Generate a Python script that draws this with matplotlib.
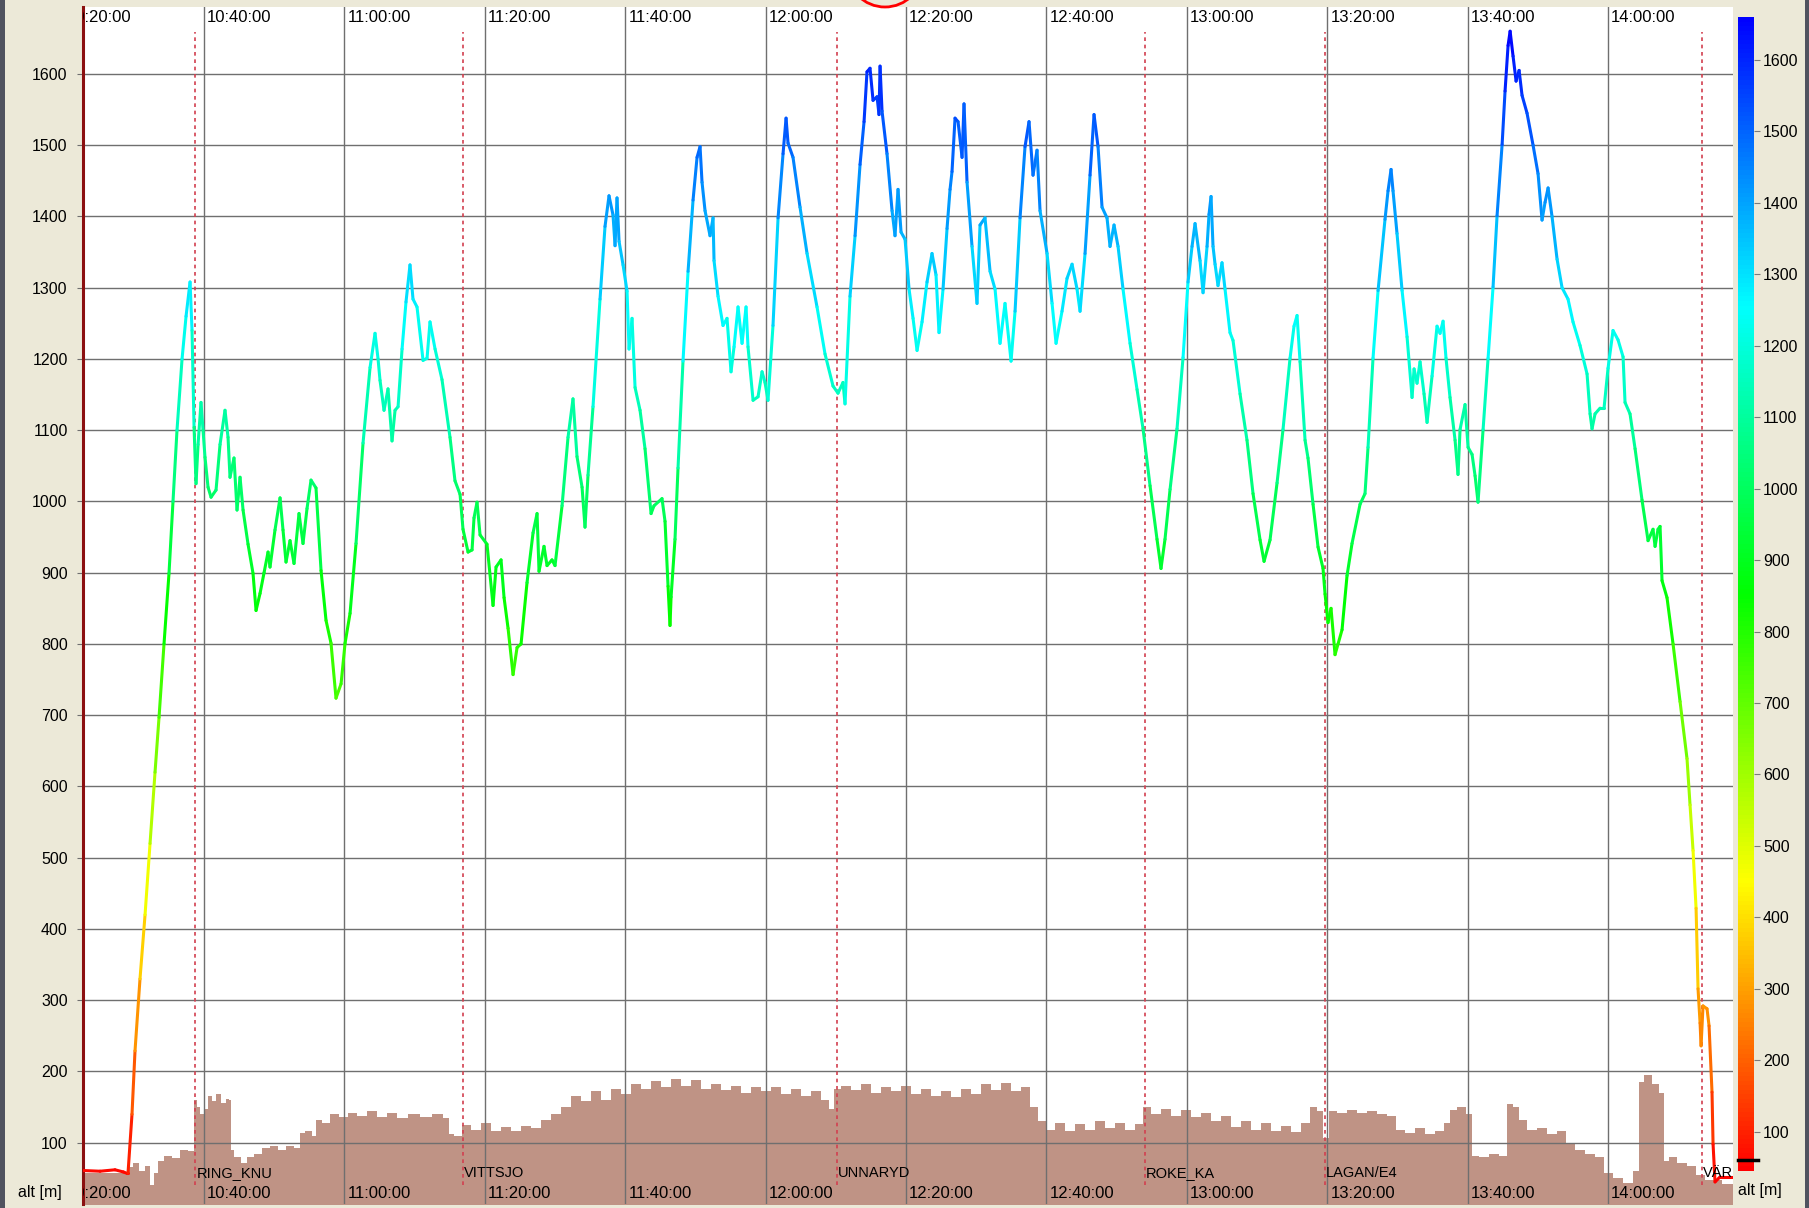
import numpy as np
import matplotlib
matplotlib.use("Agg")
import matplotlib.pyplot as plt
import matplotlib.transforms as mtransforms
from matplotlib.collections import LineCollection
from matplotlib.colors import ListedColormap, Normalize, hsv_to_rgb
from matplotlib.cm import ScalarMappable
from matplotlib.patches import Circle, Rectangle

plt.rcParams['font.family'] = ['Liberation Sans', 'DejaVu Sans']

# flight track: minutes after 10:00 and altitude [m]
flight_min = [
    22.76, 25.19, 27.32, 28.50, 29.03, 29.17, 29.74, 30.17, 30.88, 31.60, 32.31, 33.02,
    33.59, 34.30, 35.01, 35.58, 36.15, 36.87, 37.44, 38.01, 38.29, 38.58, 38.86, 39.15,
    39.57, 39.86, 40.14, 40.57, 41.00, 41.71, 42.28, 42.99, 43.42, 43.70, 44.27, 44.70,
    45.13, 45.56, 46.27, 46.98, 47.41, 47.98, 48.55, 49.12, 49.40, 50.11, 50.83, 51.25,
    51.68, 52.25, 52.82, 53.53, 54.10, 54.67, 55.24, 55.95, 56.67, 57.38, 58.09, 58.80,
    59.52, 60.09, 60.80, 61.65, 62.65, 63.65, 64.36, 64.79, 65.07,
    65.64, 66.21, 66.78, 67.21, 67.64, 68.21, 68.77, 69.34, 69.77, 70.34, 71.20, 71.77,
    72.19, 72.91, 73.90, 75.04, 75.75, 76.47, 76.89, 77.61, 78.18, 78.46, 78.89, 79.32,
    80.31, 81.17, 81.60, 82.31, 82.74, 83.31, 84.02, 84.59, 85.16, 86.01, 86.87, 87.44,
    87.72, 88.43, 88.86, 89.57, 90.00, 91.00, 91.85, 92.56, 93.13, 93.85, 94.27, 94.70,
    95.41, 96.41, 97.12, 97.69, 98.26, 98.55, 98.83, 99.12, 99.69, 100.26, 100.54, 100.97,
    101.40, 102.11, 102.82, 103.68, 104.10, 105.24, 105.67, 106.10, 106.38, 106.53, 107.09,
    107.52, 108.23, 108.95, 109.66, 110.23, 110.66, 110.94, 111.37, 112.08, 112.51, 112.65,
    113.22, 113.93, 114.50, 115.07, 115.50, 116.07, 116.64, 117.21, 117.49, 118.21, 118.92,
    119.49, 119.91, 120.34, 121.05, 121.77, 122.48, 122.91, 123.19, 123.90, 124.90, 125.90,
    127.32, 128.46, 129.60, 130.31, 131.02, 131.31, 132.02, 132.74, 133.45, 134.02, 134.44,
    134.87, 135.30, 135.87, 136.15, 136.30, 136.58, 137.29, 138.01, 138.43, 138.86, 139.29,
    139.86, 140.43, 141.00, 141.57, 142.28, 142.99, 143.70, 144.27, 144.70, 145.27, 145.84,
    146.27, 146.55, 146.98, 147.41, 147.98, 148.26, 148.69, 149.40, 150.11, 150.54, 151.25,
    151.97, 152.68, 153.39, 154.10, 154.96, 155.53, 156.24, 156.95, 157.52, 158.09, 158.66,
    159.09, 160.09, 160.80, 161.37, 162.22, 162.93, 163.65, 164.36, 164.79, 165.50, 166.21,
    166.78, 167.35, 167.92, 168.63, 169.06, 169.63, 170.20, 170.91, 171.91, 172.91, 173.76,
    174.76, 175.75, 176.32, 176.89, 177.61, 178.60, 179.46, 180.17, 180.74, 181.17, 181.88,
    182.31, 182.88, 183.16, 183.45, 183.73, 184.02, 184.44, 185.01, 185.44, 186.15, 186.58,
    187.58, 188.57, 189.43, 190.43, 191.00, 191.85, 192.85, 193.70, 194.70, 195.27, 195.70,
    196.13, 196.84, 197.26, 197.98, 198.69, 199.40, 199.69, 200.11, 200.54, 201.11, 201.54,
    202.11, 202.82, 203.53, 204.67, 205.38, 205.81, 206.52, 207.24, 208.23, 208.66, 209.09,
    209.37, 209.94, 210.66, 211.37, 212.08, 212.37, 212.79, 213.22, 213.79, 214.22, 214.93,
    215.64, 216.07, 216.50, 216.92, 217.49, 218.21, 218.63, 218.92, 219.63, 220.06, 220.63,
    221.06, 221.48, 222.20, 222.91, 223.62, 224.19, 224.91, 225.33, 225.76, 226.05, 226.47,
    226.90, 227.33, 227.75, 228.46, 229.32, 230.03, 230.60, 231.03, 231.46, 232.02, 232.74,
    233.45, 234.30, 235.01, 236.01, 237.01, 237.44, 237.72, 238.15, 238.86, 239.43, 240.00,
    240.71, 241.42, 242.14, 242.42, 243.13, 243.85, 244.84, 245.70, 246.41, 246.70, 247.12,
    247.41, 247.69, 248.40, 249.26, 250.26, 251.25, 251.68, 252.11, 252.54, 252.82, 253.11,
    253.25, 253.53, 254.10, 254.39, 254.81, 254.96, 255.24, 255.95, 257.80,
]
flight_alt = [
    61, 60, 62, 59, 57, 57, 140, 229, 330, 420, 520, 620,
    697, 800, 899, 1000, 1100, 1200, 1260, 1308, 1240, 1104, 1025, 1080,
    1139, 1100, 1062, 1020, 1006, 1016, 1080, 1128, 1090, 1034, 1061, 988,
    1034, 988, 940, 899, 847, 871, 900, 929, 908, 960, 1005, 960,
    915, 945, 913, 983, 941, 990, 1030, 1019, 903, 833, 801, 724,
    744, 801, 843, 941, 1082, 1188, 1236, 1200, 1170,
    1128, 1158, 1085, 1128, 1133, 1214, 1280, 1332, 1284, 1273, 1198, 1201,
    1252, 1214, 1171, 1090, 1029, 1010, 961, 929, 932, 977, 999, 953,
    940, 854, 908, 918, 865, 822, 757, 795, 800, 886, 956, 983,
    902, 937, 910, 918, 910, 994, 1090, 1144, 1063, 1020, 964, 1037,
    1133, 1284, 1386, 1429, 1402, 1359, 1426, 1365, 1332, 1295, 1214, 1257,
    1160, 1128, 1074, 983, 994, 1004, 972, 881, 826, 866, 947,
    1047, 1197, 1323, 1423, 1483, 1498, 1448, 1408, 1373, 1398, 1338,
    1288, 1247, 1257, 1182, 1217, 1273, 1222, 1273, 1217, 1142, 1147,
    1182, 1167, 1142, 1247, 1398, 1488, 1538, 1503, 1483, 1413, 1348,
    1273, 1207, 1162, 1152, 1167, 1137, 1288, 1373, 1473, 1533, 1603,
    1608, 1563, 1568, 1543, 1611, 1548, 1488, 1408, 1373, 1438, 1378,
    1368, 1298, 1257, 1212, 1252, 1308, 1348, 1318, 1237, 1298, 1383,
    1438, 1463, 1538, 1533, 1483, 1558, 1448, 1358, 1278, 1388, 1398,
    1323, 1298, 1222, 1278, 1197, 1267, 1398, 1498, 1533, 1458, 1493,
    1408, 1348, 1278, 1222, 1267, 1313, 1333, 1298, 1267, 1348, 1458,
    1543, 1498, 1413, 1398, 1358, 1388, 1358, 1298, 1222, 1157, 1102,
    1022, 947, 906, 947, 1017, 1102, 1202, 1308, 1358, 1390, 1338,
    1293, 1358, 1403, 1428, 1358, 1333, 1303, 1335, 1298, 1237, 1226,
    1151, 1086, 1011, 946, 916, 946, 1026, 1101, 1201, 1246, 1261,
    1196, 1086, 1061, 996, 936, 906, 870, 830, 850, 785, 800,
    820, 896, 941, 996, 1011, 1076, 1201, 1296, 1396, 1436, 1466,
    1436, 1376, 1296, 1231, 1146, 1186, 1166, 1196, 1151, 1111, 1176,
    1246, 1236, 1253, 1201, 1146, 1086, 1038, 1101, 1136, 1076, 1066,
    1036, 999, 1101, 1201, 1301, 1401, 1501, 1576, 1640, 1660, 1625,
    1590, 1605, 1570, 1545, 1500, 1460, 1395, 1420, 1440, 1400, 1340,
    1300, 1284, 1252, 1219, 1179, 1123, 1102, 1123, 1131, 1131, 1187,
    1240, 1227, 1203, 1139, 1123, 1074, 1002, 945, 961, 937, 961,
    965, 889, 865, 800, 719, 639, 574, 510, 429, 316, 268,
    236, 292, 288, 264, 171, 98, 45, 52, 52,
]

# ground elevation under the track
terrain_min = [
    22.76, 29.03, 29.46, 30.31, 31.17, 32.02, 32.59, 33.02, 33.73, 34.87, 36.01, 37.15,
    38.29, 38.72, 39.15, 39.72, 40.28, 40.85, 41.42, 41.99, 42.71, 43.42, 43.70, 43.85,
    44.70, 45.70, 46.55, 47.69, 48.83, 49.97, 51.11, 52.25, 53.39, 53.82, 54.96, 55.67,
    56.24, 57.38, 58.52, 59.94, 61.08, 62.51, 63.93, 65.36, 66.78, 68.21, 69.91, 71.62,
    73.33, 74.62, 75.04, 76.18, 77.32, 78.75, 80.17, 81.60, 83.02, 84.44, 85.87, 87.29,
    88.72, 90.14, 91.57, 92.99, 94.42, 95.84, 97.26, 98.69, 100.11, 101.54, 102.96, 104.39,
    105.81, 107.23, 108.66, 110.09, 111.51, 112.93, 114.36, 115.78, 117.21, 118.63, 120.06,
    121.48, 122.91, 124.33, 125.75, 127.18, 128.60, 129.32, 130.03, 131.45, 132.88, 134.30,
    135.73, 137.15, 138.58, 140.00, 141.42, 142.85, 144.27, 145.70, 147.12, 148.55, 149.97,
    151.40, 152.82, 154.25, 155.67, 157.09, 158.23, 159.37, 160.51, 161.94, 163.36, 164.79,
    166.21, 167.64, 169.06, 170.48, 171.91, 173.33, 174.19, 175.61, 177.04, 178.46, 179.89,
    181.31, 182.73, 184.16, 185.58, 187.01, 188.43, 189.86, 191.28, 192.71, 194.13, 195.56,
    196.98, 198.12, 198.97, 199.69, 200.68, 202.11, 203.53, 204.96, 206.38, 207.81, 209.23,
    210.37, 211.79, 213.22, 214.64, 216.07, 217.21, 217.78, 219.20, 220.34, 220.91, 222.34,
    223.76, 225.19, 226.05, 226.90, 227.75, 229.17, 230.60, 232.02, 233.45, 234.59, 236.01,
    237.44, 238.86, 240.00, 241.42, 242.85, 244.27, 244.56, 245.70, 246.84, 247.69, 248.12,
    249.12, 250.54, 251.96, 253.11, 254.53, 257.80,
]
terrain_alt = [
    57, 57, 66, 72, 60, 68, 40, 58, 75, 82, 78, 90,
    88, 160, 150, 140, 148, 166, 158, 168, 156, 162, 160, 90,
    80, 72, 80, 84, 93, 96, 90, 96, 93, 113, 116, 110,
    132, 128, 140, 136, 142, 138, 144, 136, 142, 135, 140, 136,
    141, 134, 112, 110, 125, 118, 127, 117, 122, 116, 124, 120,
    132, 140, 150, 165, 158, 172, 160, 176, 168, 182, 175, 186,
    178, 190, 180, 188, 176, 182, 174, 180, 170, 178, 172,
    178, 168, 176, 166, 172, 160, 148, 176, 180, 174, 182,
    170, 178, 172, 180, 168, 175, 165, 172, 164, 176, 168,
    182, 174, 184, 172, 178, 150, 130, 118, 128, 116, 126,
    118, 130, 120, 128, 118, 126, 150, 140, 148, 138, 146,
    136, 142, 130, 138, 122, 130, 118, 128, 116, 124, 115,
    128, 150, 145, 107, 145, 142, 146, 142, 144, 140, 138,
    118, 114, 120, 112, 116, 128, 146, 150, 140, 82, 80,
    84, 82, 154, 150, 132, 118, 120, 112, 116, 100, 90,
    84, 80, 58, 50, 44, 60, 185, 195, 182, 170, 75,
    80, 72, 68, 55, 48, 42,
]

# waypoints passed along the route
waypoint_names = ["RING_KNU", "VITTSJO", "UNNARYD", "ROKE_KA", "LAGAN/E4", "VÄRNAMO"]
waypoint_min = [38.76, 76.84, 130.17, 173.97, 199.69, 253.35]

time_ticks = list(range(20, 260, 20))
alt_ticks = list(range(100, 1700, 100))

W, H = 1809, 1208
fig = plt.figure(figsize=(W / 100, H / 100), dpi=100, facecolor="#ece9d8")
ax = fig.add_axes([83 / W, 1 - 1204 / H, (1733 - 83) / W, (1204 - 7) / H])
ax.set_facecolor("white")

# red -> yellow -> green -> cyan -> blue along the hue circle
hues = np.linspace(0, 240 / 360, 256)
cmap = ListedColormap(hsv_to_rgb(np.column_stack([hues, np.ones(256), np.ones(256)])))
norm = Normalize(min(flight_alt), max(flight_alt))

ax.fill_between(terrain_min, 0, terrain_alt, color="#bf9385", lw=0, step="mid", zorder=1)

fm = np.array(flight_min)
fa = np.array(flight_alt, dtype=float)
pts = np.column_stack([fm, fa])
segs = np.stack([pts[:-1], pts[1:]], axis=1)
lc = LineCollection(segs, cmap=cmap, norm=norm, linewidths=2.2,
                    capstyle="round", joinstyle="round", zorder=4)
lc.set_array((fa[:-1] + fa[1:]) / 2)
ax.add_collection(lc)

ax.set_xticks(time_ticks)
ax.set_yticks(alt_ticks)
# limits after the ticks, otherwise set_ticks widens the view
ax.set_xlim(22.76, 257.8)
ax.set_ylim(14, 1694)
ax.grid(True, color="#6f6f6f", lw=1.0)
ax.tick_params(axis="x", length=0, labelbottom=False)
ax.tick_params(axis="y", length=4.5, width=0.8, color="#6f6f6f", pad=6.5, labelsize=11.5)
for side in ["top", "right", "bottom"]:
    ax.spines[side].set_visible(False)
ax.spines["left"].set_color("#8b1010")
ax.spines["left"].set_linewidth(2.2)

# waypoint markers
ax.vlines(waypoint_min, 40, 1659, colors="#d2404f", linestyles=(0, (2.2, 2.2)), lw=1.2, zorder=3)
trans = mtransforms.blended_transform_factory(ax.transData, ax.transAxes)
for name, t in zip(waypoint_names, waypoint_min):
    ax.text(t + 0.15, 0.026, name, transform=trans, ha="left", va="center",
            fontsize=10.5, clip_on=True, zorder=5)

# clock labels along the top and bottom edges
for t in time_ticks:
    label = f"{10 + t // 60}:{t % 60:02d}:00"
    for y in (0.9915, 0.0085):
        ax.text(t + 0.45, y, label, transform=trans, ha="left", va="center",
                fontsize=12, clip_on=True, zorder=5)

# colour scale bar
cax = fig.add_axes([1738 / W, 1 - 1171 / H, 16 / W, (1171 - 17) / H])
cb = fig.colorbar(ScalarMappable(norm=norm, cmap=cmap), cax=cax)
cb.outline.set_visible(False)
cb.set_ticks(alt_ticks)
cax.tick_params(length=4.5, width=0.8, color="#7a7a7a", labelsize=11.5, pad=2)
cax.axhline(flight_alt[0], xmin=0, xmax=1.25, color="black", lw=2.5, clip_on=False)

fig.text(18 / W, 1 - 1192 / H, "alt [m]", ha="left", va="center", fontsize=11.5)
fig.text(1738 / W, 1 - 1191 / H, "alt [m]", ha="left", va="center", fontsize=11.5)

# window frame edges and position marker
fig.add_artist(Rectangle((0, 0), 5 / W, 1, transform=fig.transFigure, color="#50535f", lw=0))
fig.add_artist(Rectangle((1805 / W, 0), 4 / W, 1, transform=fig.transFigure, color="#50535f", lw=0))
fig.add_artist(Circle((8.85, (H + 31) / 100), 0.38, transform=fig.dpi_scale_trans,
                      fill=False, ec="red", lw=2.0))

fig.savefig("out.png", dpi=100, facecolor=fig.get_facecolor())
